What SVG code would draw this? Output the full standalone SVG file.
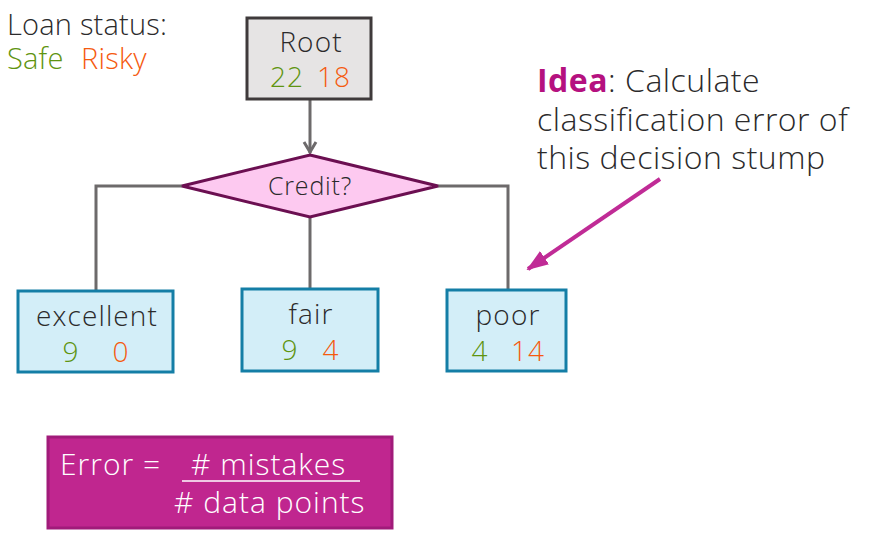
<svg xmlns="http://www.w3.org/2000/svg" width="879" height="539" viewBox="0 0 879 539">
<defs>
<style>
text{font-family:"Open Sans","Noto Sans","Liberation Sans",sans-serif;font-weight:300;fill:#2b2a2b}
.lbl{font-size:28px;letter-spacing:1.1px;text-anchor:middle}
.g{fill:#5f9410}
.o{fill:#f55a0f}
.leaf{fill:#d3eef8;stroke:#147ea6;stroke-width:3}
.conn{fill:none;stroke:#6d6a6b;stroke-width:3}
.idea{font-size:32px;letter-spacing:0.5px}
.leg{font-size:29px;letter-spacing:0.2px}
.w{fill:#ffffff;font-size:30px;letter-spacing:1px}
</style>
<marker id="mag" markerWidth="22" markerHeight="22" refX="20" refY="11" orient="auto" markerUnits="userSpaceOnUse" viewBox="0 0 22 22">
<path d="M0,3 L22,11 L0,19 Z" fill="#c02b96"/>
</marker>
</defs>

<g id="legend">
<text x="7" y="35" class="leg">Loan status:</text>
<text x="7" y="69" class="leg g">Safe</text>
<text x="81" y="69" class="leg o">Risky</text>
</g>

<g id="connectors">
<line x1="310" y1="99" x2="310" y2="153" class="conn"/>
<path d="M304,142 L310,152 L316,142" class="conn" stroke-width="2.5"/>
<polyline points="182,186 96,186 96,291" class="conn"/>
<line x1="310" y1="217" x2="310" y2="289" class="conn"/>
<polyline points="438,186 508,186 508,290" class="conn"/>
<line x1="660" y1="179" x2="528" y2="269" stroke="#c02b96" stroke-width="4" marker-end="url(#mag)"/>
</g>

<g id="root">
<rect x="247" y="18" width="124" height="81" fill="#e6e4e4" stroke="#3f3a3b" stroke-width="3"/>
<text x="311" y="52" class="lbl">Root</text>
<text x="287" y="87" class="lbl g">22</text>
<text x="334" y="87" class="lbl o">18</text>
</g>

<g id="credit">
<polygon points="310,155 438,186 310,217 182,186" fill="#fdc9f0" stroke="#6b0f51" stroke-width="3"/>
<text x="310" y="195" class="lbl" style="font-size:25px;letter-spacing:0.8px">Credit?</text>
</g>

<g id="excellent">
<rect x="18" y="291" width="155" height="81" class="leaf"/>
<text x="97" y="326" class="lbl">excellent</text>
<text x="71" y="362" class="lbl g">9</text>
<text x="121" y="362" class="lbl o">0</text>
</g>

<g id="fair">
<rect x="242" y="289" width="136" height="82" class="leaf"/>
<text x="311" y="324" class="lbl">fair</text>
<text x="290" y="360" class="lbl g">9</text>
<text x="331" y="360" class="lbl o">4</text>
</g>

<g id="poor">
<rect x="447" y="290" width="119" height="81" class="leaf"/>
<text x="508" y="325" class="lbl">poor</text>
<text x="480" y="361" class="lbl g">4</text>
<text x="528" y="361" class="lbl o">14</text>
</g>

<g id="idea">
<text x="537" y="92" class="idea"><tspan style="font-weight:bold;fill:#b5117f">Idea</tspan>: Calculate</text>
<text x="537" y="131" class="idea">classification error of</text>
<text x="537" y="169" class="idea">this decision stump</text>
</g>

<g id="error">
<rect x="48" y="437" width="344" height="91" fill="#c0268f" stroke="#a11b7a" stroke-width="3"/>
<text x="60" y="475" class="w">Error =</text>
<text x="191" y="475" class="w"># mistakes</text>
<line x1="182" y1="481" x2="360" y2="481" stroke="#ffffff" stroke-width="1.5"/>
<text x="174" y="513" class="w"># data points</text>
</g>
</svg>
